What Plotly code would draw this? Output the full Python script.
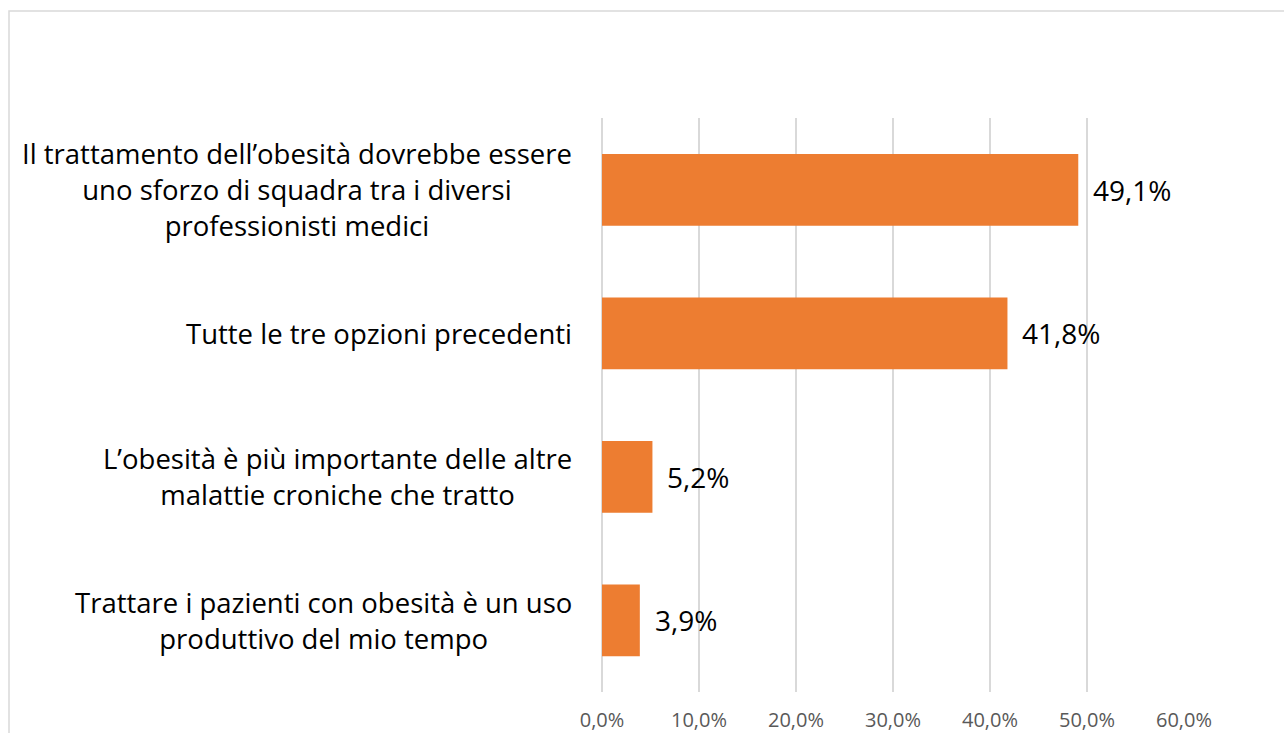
import plotly.graph_objects as go

# Survey answers (top to bottom) and their share of respondents, in percent
categories = [
    "Il trattamento dell’obesità dovrebbe essere<br>uno sforzo di squadra tra i diversi<br>professionisti medici",
    "Tutte le tre opzioni precedenti",
    "L’obesità è più importante delle altre<br>malattie croniche che tratto",
    "Trattare i pazienti con obesità è un uso<br>produttivo del mio tempo",
]
values = [49.1, 41.8, 5.2, 3.9]
tick_values = [0, 10, 20, 30, 40, 50, 60]
tick_labels = [f"{v:.1f}%".replace(".", ",") for v in tick_values]

FONT = "Open Sans"
BAR_COLOR = "#ED7D31"
GRID_COLOR = "#D9D9D9"

fig = go.Figure(
    go.Bar(
        x=values,
        y=categories,
        orientation="h",
        marker=dict(color=BAR_COLOR, line=dict(width=0)),
        width=0.5,
        hoverinfo="skip",
    )
)

# Category labels: right-aligned block, lines centred within it
for cat in categories:
    fig.add_annotation(
        x=0,
        xref="paper",
        y=cat,
        yref="y",
        text=cat,
        showarrow=False,
        xanchor="right",
        xshift=-28,
        align="center",
        font=dict(family=FONT, size=27.5, color="#000000"),
    )

# Value labels to the right of each bar
for cat, val in zip(categories, values):
    fig.add_annotation(
        x=val,
        y=cat,
        text=f"{val:.1f}%".replace(".", ","),
        showarrow=False,
        xanchor="left",
        xshift=13,
        font=dict(family=FONT, size=28, color="#000000"),
    )

# Light frame around the whole chart
fig.add_shape(
    type="rect",
    xref="paper",
    yref="paper",
    x0=-1.0189,
    x1=1.19,
    y0=-0.09,
    y1=1.1864,
    line=dict(color=GRID_COLOR, width=1.5),
    fillcolor="rgba(0,0,0,0)",
    layer="below",
)

fig.update_layout(
    width=1284,
    height=733,
    margin=dict(l=602, r=100, t=118, b=41),
    paper_bgcolor="white",
    plot_bgcolor="white",
    showlegend=False,
    bargap=0.5,
    font=dict(family=FONT),
    xaxis=dict(
        range=[0, 60],
        tickvals=tick_values,
        ticktext=tick_labels,
        showgrid=True,
        gridcolor=GRID_COLOR,
        gridwidth=1.5,
        zeroline=True,
        zerolinecolor=GRID_COLOR,
        zerolinewidth=1.5,
        showline=False,
        ticks="",
        automargin=False,
        ticklabelstandoff=14,
        tickfont=dict(family=FONT, size=20, color="#595959"),
    ),
    yaxis=dict(
        categoryorder="array",
        categoryarray=categories[::-1],
        showgrid=False,
        zeroline=False,
        showline=False,
        showticklabels=False,
        ticks="",
        automargin=False,
    ),
)

fig.write_html("out.html")
